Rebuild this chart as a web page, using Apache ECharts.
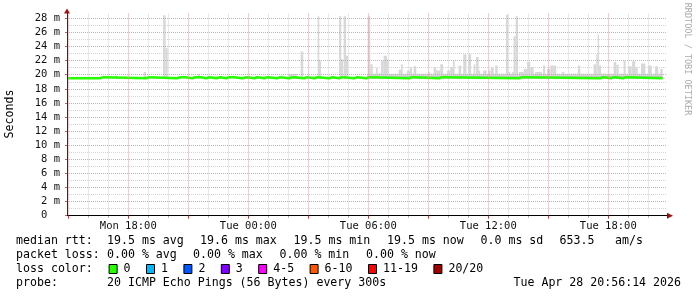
<!DOCTYPE html>
<html><head><meta charset="utf-8">
<script src="https://cdn.jsdelivr.net/npm/echarts@6/dist/echarts.min.js"></script>
<style>html,body{margin:0;padding:0;background:#fff}#c{width:697px;height:297px}</style>
</head><body><div id="c"></div><script>
// time axis in hours since Mon 00:00
const xStart = 14.937, xEnd = 44.937;
const xLabelTicks = [18, 24, 30, 36, 42];
const xMajorTicks = [15, 18, 21, 24, 27, 30, 33, 36, 39, 42];
const xMinorTicks = [16, 17, 19, 20, 22, 23, 25, 26, 28, 29, 31, 32, 34, 35, 37, 38, 40, 41, 43, 44];
const yMax = 28.7;
const yMajorTicks = [0, 2, 4, 6, 8, 10, 12, 14, 16, 18, 20, 22, 24, 26, 28];
const yMinorTicks = [1, 3, 5, 7, 9, 11, 13, 15, 17, 19, 21, 23, 25, 27];

// median rtt (ms), step changes
const medianHours = [14.94, 16.6, 16.75, 18.9, 19.05, 20.45, 20.6, 20.7, 20.85, 21.2, 21.35, 21.45, 21.6, 21.9, 22.05, 22.4, 22.6, 22.9, 23.05, 23.15, 23.3, 23.7, 23.95, 24.3, 24.45, 24.8, 24.95, 25.45, 25.6, 26.05, 26.2, 26.8, 26.95, 27.3, 27.45, 28.05, 28.2, 28.55, 28.7, 29.3, 29.45, 29.9, 30.05, 32.05, 32.2, 33.55, 33.7, 37.55, 37.7, 41.6, 41.75, 42.15, 42.3, 42.75, 42.9, 44.72];
const medianValues = [19.5, 19.65, 19.5, 19.65, 19.5, 19.65, 19.5, 19.65, 19.5, 19.65, 19.5, 19.65, 19.5, 19.65, 19.5, 19.65, 19.5, 19.65, 19.5, 19.65, 19.5, 19.65, 19.5, 19.65, 19.5, 19.65, 19.5, 19.65, 19.5, 19.65, 19.5, 19.65, 19.5, 19.65, 19.5, 19.65, 19.5, 19.65, 19.5, 19.65, 19.5, 19.65, 19.5, 19.65, 19.5, 19.65, 19.5, 19.65, 19.5, 19.65, 19.5, 19.65, 19.5, 19.65, 19.5, 19.5];

// smoke (ms)
const smokeBase = 19.45;
const bandStart = [14.94, 29.97];
const bandEnd = [29.97, 44.72];
const bandTop = [19.72, 20.15];
const darkStart = [29.97];
const darkEnd = [44.72];
const darkTop = [19.85];
const spikeStart = [17.34,18.77,19.74,19.87,21.49,25.99,26.62,27.47,27.49,28.54,28.64,28.77,28.89,29.97,30.10,30.39,30.52,30.64,30.77,30.94,31.07,31.52,31.64,31.94,32.09,32.27,32.44,33.02,33.27,33.40,33.60,33.94,34.10,34.24,34.52,34.75,35.00,35.27,35.39,35.52,35.74,36.02,36.12,36.35,36.89,37.00,37.19,37.27,37.37,37.52,37.77,37.94,38.10,38.34,38.74,38.94,39.10,39.27,39.69,40.49,41.27,41.40,41.47,41.54,42.27,42.40,42.77,42.99,43.19,43.35,43.64,43.99,44.34,44.60];
const spikeEnd = [17.44,18.89,19.87,19.97,21.56,26.44,26.75,27.55,27.64,28.65,28.74,28.89,28.99,30.10,30.22,30.47,30.64,30.77,30.94,31.02,31.39,31.64,31.72,32.09,32.19,32.40,32.89,33.09,33.40,33.60,33.74,34.10,34.24,34.32,34.64,34.91,35.14,35.35,35.52,35.60,35.92,36.10,36.27,36.47,37.00,37.10,37.27,37.37,37.49,37.77,37.94,38.10,38.27,38.69,38.84,39.10,39.27,39.40,39.80,40.60,41.40,41.47,41.54,41.64,42.40,42.52,42.87,43.17,43.35,43.47,43.85,44.17,44.50,44.72];
const spikeTop = [19.9,20.4,28.45,23.8,20.1,20.1,23.3,28.3,22.0,28.3,22.2,28.3,22.7,28.3,21.5,21.0,20.2,22.0,22.7,22.2,20.1,20.7,21.5,20.6,21.1,21.2,20.1,20.4,21.1,20.6,21.5,20.6,21.1,22.0,21.3,22.9,22.9,21.5,22.5,20.6,20.6,20.6,21.0,21.3,28.5,20.4,20.4,25.5,28.3,20.4,20.8,21.8,21.1,20.4,21.3,20.8,21.3,21.3,20.4,21.3,21.5,22.9,25.7,21.3,21.8,21.4,22.0,21.2,21.9,21.1,21.6,21.3,21.2,20.8];

// legend texts
const rttLabel = 'median rtt:';
const rttStats = ['19.5 ms avg', '19.6 ms max', '19.5 ms min', '19.5 ms now', '0.0 ms sd', '653.5', 'am/s'];
const lossLabel = 'packet loss:';
const lossStats = ['0.00 % avg', '0.00 % max', '0.00 % min', '0.00 % now'];
const colorLabel = 'loss color:';
const lossNames = ['0', '1', '2', '3', '4-5', '6-10', '11-19', '20/20'];
const lossColors = ['#26ff00', '#00b8ff', '#0059ff', '#7e00ff', '#ff00ff', '#ff5500', '#ff0000', '#a00000'];
const probeLabel = 'probe:';
const probeText = '20 ICMP Echo Pings (56 Bytes) every 300s';
const dateText = 'Tue Apr 28 20:56:14 2026';
const yTitle = 'Seconds';
const credit = 'RRDTOOL / TOBI OETIKER';

// layout
const G = {left: 67, right: 30, top: 13.4, bottom: 81.3};
const W = 697, H = 297;
const mono = 'DejaVu Sans Mono';
const legFont = '11.6px "DejaVu Sans Mono"';

function rectItem(color) {
  return function (params, api) {
    const p0 = api.coord([api.value(0), api.value(2)]);
    const p1 = api.coord([api.value(1), api.value(3)]);
    return {type: 'rect', shape: {x: p0[0], y: p0[1], width: p1[0] - p0[0], height: p1[1] - p0[1]}, style: {fill: color}};
  };
}
function mk(starts, ends, tops) { return starts.map((s, i) => [s, ends[i], tops[i], smokeBase]); }

function fmtX(v) {
  const day = v < 24 ? 'Mon' : 'Tue';
  const hh = Math.round(v % 24);
  return day + ' ' + String(hh).padStart(2, '0') + ':00';
}

const graphic = [];
const axY = H - G.bottom;
graphic.push({type: 'polygon', shape: {points: [[G.left - 3, G.top], [G.left + 3, G.top], [G.left, G.top - 5]]}, style: {fill: '#a01010'}});
graphic.push({type: 'polygon', shape: {points: [[W - G.right, axY - 3], [W - G.right, axY + 3], [W - G.right + 6, axY]]}, style: {fill: '#a01010'}});
graphic.push({type: 'text', x: 10, y: 114, rotation: Math.PI / 2, style: {text: yTitle, font: legFont, fill: '#000', textAlign: 'center', verticalAlign: 'middle'}});
graphic.push({type: 'text', x: 687, y: 59, rotation: -Math.PI / 2, style: {text: credit, font: '8.5px "DejaVu Sans Mono"', fill: '#aaaaaa', textAlign: 'center', verticalAlign: 'middle'}});
function txt(t, x, y, align) {
  graphic.push({type: 'text', x: x, y: y, style: {text: t, font: legFont, fill: '#000', textAlign: align || 'left', verticalAlign: 'middle'}});
}
txt(rttLabel, 16, 241);
const rttX = [107, 200, 293.5, 387, 480.5, 559.5, 615];
rttStats.forEach((t, i) => txt(t, rttX[i], 241));
txt(lossLabel, 16, 255);
const lossX = [107, 193, 279.5, 366];
lossStats.forEach((t, i) => txt(t, lossX[i], 255));
txt(colorLabel, 16, 269);
let cur = 108.6;
lossNames.forEach((n, i) => {
  graphic.push({type: 'rect', shape: {x: cur + 0.5, y: 264.5, width: 8, height: 9}, style: {fill: lossColors[i], stroke: '#000', lineWidth: 1}});
  txt(n, cur + 15, 269);
  cur = cur + 15 + n.length * 7.0 + 15.4;
});
txt(probeLabel, 16, 283);
txt(probeText, 107, 283);
txt(dateText, 681, 283, 'right');

const majorLine = {show: true, lineStyle: {color: '#e2a4a4', width: 1, type: [1, 1]}};
const minorLine = {show: true, lineStyle: {color: '#d4d4d4', width: 1, type: [1, 1]}};

const option = {
  animation: false,
  backgroundColor: '#ffffff',
  grid: {left: G.left, right: G.right, top: G.top, bottom: G.bottom, containLabel: false},
  xAxis: [
    {type: 'value', min: xStart, max: xEnd, position: 'bottom', z: 5,
     axisLine: {show: true, onZero: false, lineStyle: {color: '#000', width: 1}},
     axisTick: {show: true, length: 3, customValues: xMajorTicks, lineStyle: {color: '#c04040'}},
     splitLine: Object.assign({customValues: xMajorTicks}, majorLine),
     axisLabel: {show: true, customValues: xLabelTicks, formatter: fmtX, margin: 5, fontFamily: mono, fontSize: 10.5, color: '#111'}},
    {type: 'value', min: xStart, max: xEnd, position: 'bottom',
     axisLine: {show: false, onZero: false},
     axisTick: {show: true, length: 2, customValues: xMinorTicks, lineStyle: {color: '#aaaaaa'}},
     splitLine: Object.assign({customValues: xMinorTicks}, minorLine),
     axisLabel: {show: false}}
  ],
  yAxis: [
    {type: 'value', min: 0, max: yMax, z: 5,
     axisLine: {show: true, onZero: false, lineStyle: {color: '#4a2020', width: 1}},
     axisTick: {show: true, length: 2, customValues: yMajorTicks, lineStyle: {color: '#c06060'}},
     splitLine: Object.assign({customValues: yMajorTicks}, majorLine),
     axisLabel: {show: true, customValues: yMajorTicks, margin: 7, fontFamily: mono, fontSize: 10.5, color: '#111',
       formatter: v => (v === 0 ? '0  ' : v + ' m')}},
    {type: 'value', min: 0, max: yMax,
     axisLine: {show: false, onZero: false},
     axisTick: {show: false, customValues: yMinorTicks},
     splitLine: Object.assign({customValues: yMinorTicks}, minorLine),
     axisLabel: {show: false}}
  ],
  series: [
    {type: 'custom', name: 'smoke', renderItem: rectItem('#dcdcdc'), encode: {x: [0, 1], y: [2, 3]}, data: mk(bandStart, bandEnd, bandTop), clip: true},
    {type: 'custom', name: 'spikes', renderItem: rectItem('#d8d8d8'), encode: {x: [0, 1], y: [2, 3]}, data: mk(spikeStart, spikeEnd, spikeTop), clip: true},
    {type: 'custom', name: 'smoke2', renderItem: rectItem('#c8c8c8'), encode: {x: [0, 1], y: [2, 3]}, data: mk(darkStart, darkEnd, darkTop), clip: true},
    {type: 'line', name: 'median', step: 'end', symbol: 'none', data: medianHours.map((h, i) => [h, medianValues[i]]),
     lineStyle: {color: '#26ff00', width: 2.5}, z: 4}
  ],
  graphic: graphic
};
const chart = echarts.init(document.getElementById('c'), null, {renderer: 'canvas'});
chart.setOption(option);
</script></body></html>
